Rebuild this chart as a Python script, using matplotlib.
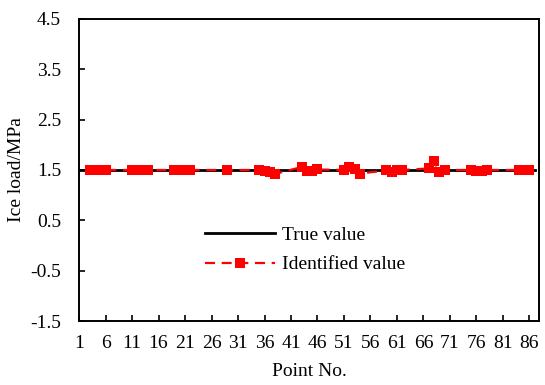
import matplotlib.pyplot as plt

# True load is constant over all measuring points
true_x = [1, 87]
true_y = [1.5, 1.5]

# Identified load at the measuring points that carry a marker
ident_x = [3, 4, 5, 6,
           11, 12, 13, 14,
           19, 20, 21, 22,
           29,
           35, 36, 37, 38,
           43, 44, 45, 46,
           51, 52, 53, 54,
           59, 60, 61, 62,
           67, 68, 69, 70,
           75, 76, 77, 78,
           84, 85, 86]
ident_y = [1.50, 1.50, 1.50, 1.50,
           1.50, 1.50, 1.50, 1.50,
           1.50, 1.50, 1.50, 1.50,
           1.50,
           1.50, 1.48, 1.45, 1.42,
           1.56, 1.47, 1.48, 1.51,
           1.50, 1.55, 1.52, 1.43,
           1.49, 1.46, 1.49, 1.50,
           1.53, 1.67, 1.46, 1.50,
           1.50, 1.47, 1.48, 1.50,
           1.50, 1.50, 1.50]

x_ticks = list(range(1, 87, 5))
y_ticks = [-1.5, -0.5, 0.5, 1.5, 2.5, 3.5, 4.5]

plt.rcParams['font.family'] = ['Liberation Serif', 'DejaVu Serif']
plt.rcParams['font.size'] = 14

fig = plt.figure(figsize=(5.45, 3.85), dpi=100)
ax = fig.add_axes([0.145, 0.166, 0.844, 0.785])

ax.plot(true_x, true_y, color='black', lw=2.0, label='True value', zorder=2)
ax.plot(ident_x, ident_y, color='red', lw=1.6, linestyle=(0, (4.5, 3)),
        marker='s', markersize=7, markeredgewidth=0, label='Identified value', zorder=3)

ax.set_xlim(1, 87.8)
ax.set_ylim(-1.5, 4.5)
ax.set_xticks(x_ticks)
ax.set_yticks(y_ticks)
ax.set_yticklabels([f"{v:.1f}" for v in y_ticks])

ax.tick_params(axis='both', direction='in', length=4.5, width=1.2, labelsize=14)
ax.tick_params(axis='y', pad=13)
ax.tick_params(axis='x', pad=10)
for s in ax.spines.values():
    s.set_linewidth(1.4)

ax.set_xlabel('Point No.', fontsize=14, labelpad=8)
ax.set_ylabel('Ice load/MPa', fontsize=14, labelpad=4)

ax.legend(loc='center left', bbox_to_anchor=(0.274, 0.236), frameon=False,
          borderpad=0, borderaxespad=0, handlelength=3.6, handletextpad=0.35,
          labelspacing=0.62, fontsize=14)

fig.savefig('out.png', dpi=100)
